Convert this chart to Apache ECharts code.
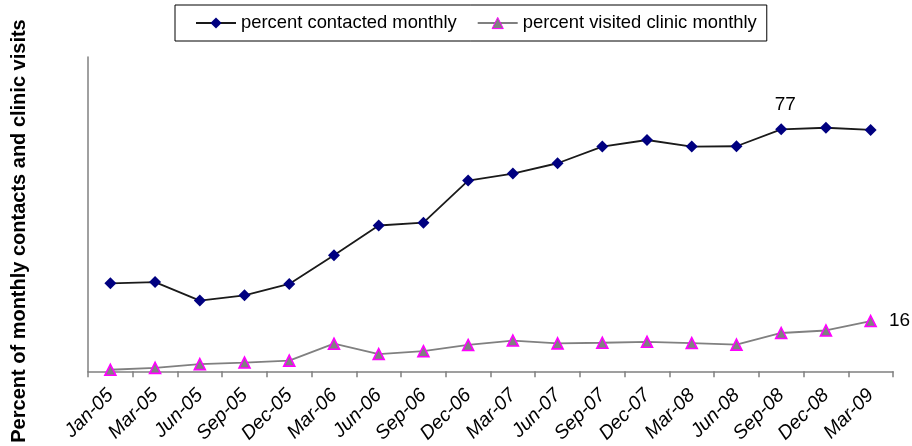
<!DOCTYPE html>
<html>
<head>
<meta charset="utf-8">
<script src="https://cdn.jsdelivr.net/npm/echarts@6/dist/echarts.min.js"></script>
<style>
html,body{margin:0;padding:0;background:#fff;}
#chart{width:912px;height:446px;}
</style>
</head>
<body>
<div id="chart"></div>
<script>
const categories = ['Jan-05','Mar-05','Jun-05','Sep-05','Dec-05','Mar-06','Jun-06','Sep-06','Dec-06','Mar-07','Jun-07','Sep-07','Dec-07','Mar-08','Jun-08','Sep-08','Dec-08','Mar-09'];
const contacted = [28, 28.4, 22.5, 24.2, 27.8, 36.9, 46.4, 47.3, 60.7, 62.9, 66.2, 71.5, 73.6, 71.5, 71.6, 77, 77.5, 76.8];
const visited = [0.5, 1.1, 2.3, 2.8, 3.4, 8.8, 5.5, 6.4, 8.4, 9.8, 8.9, 9.1, 9.4, 9.0, 8.5, 12.2, 13.0, 16];
const contactedLabelIndex = 15;
const visitedLabelIndex = 17;
const yAxisTitle = 'Percent of monthly contacts and clinic visits';
const seriesNames = ['percent contacted monthly', 'percent visited clinic monthly'];

const FONT = "'Liberation Sans', Arial, sans-serif";
const chart = echarts.init(document.getElementById('chart'), null, {renderer: 'canvas'});

chart.setOption({
  animation: false,
  backgroundColor: '#ffffff',
  textStyle: {fontFamily: FONT},
  legend: {
    left: 175, top: 5,
    padding: [9, 10, 9, 20],
    borderColor: '#000', borderWidth: 1,
    itemWidth: 40, itemHeight: 14, itemGap: 20,
    textStyle: {fontSize: 18.4, color: '#000', fontFamily: FONT},
    data: [
      {name: seriesNames[0]},
      {name: seriesNames[1], itemStyle: {color: '#808080', borderColor: '#ff00ff', borderWidth: 1}}
    ]
  },
  grid: {left: 88, right: 19, top: 57, bottom: 74},
  graphic: [{
    type: 'text', x: 19, y: 231, rotation: Math.PI / 2,
    style: {text: yAxisTitle, font: "bold 20px " + FONT, fill: '#000', textAlign: 'center', textVerticalAlign: 'middle'}
  }],
  xAxis: {
    type: 'category', data: categories, boundaryGap: true,
    axisLine: {lineStyle: {color: '#808080', width: 1.5}},
    axisTick: {show: true, length: 6, lineStyle: {color: '#808080', width: 1.5}},
    axisLabel: {interval: 0, rotate: 45, margin: 21, fontSize: 19.5, fontStyle: 'italic', color: '#000', fontFamily: FONT},
    splitLine: {show: false}
  },
  yAxis: {
    type: 'value', min: 0, max: 100,
    axisLine: {show: true, lineStyle: {color: '#808080', width: 1.5}},
    axisTick: {show: false}, axisLabel: {show: false}, splitLine: {show: false}
  },
  series: [{
    name: seriesNames[0], type: 'line',
    data: contacted.map((v, i) => i === contactedLabelIndex ? {value: v, label: {show: true}} : v),
    symbol: 'diamond', symbolSize: 12,
    lineStyle: {color: '#1a1a1a', width: 1.8},
    itemStyle: {color: '#000080'},
    label: {show: false, position: 'top', distance: 9, offset: [4, 0], fontSize: 19, color: '#000', fontFamily: FONT},
    z: 3
  }, {
    name: seriesNames[1], type: 'line',
    data: visited.map((v, i) => i === visitedLabelIndex ? {value: v, label: {show: true}} : v),
    symbol: 'triangle', symbolSize: 11,
    lineStyle: {color: '#808080', width: 1.8},
    itemStyle: {color: '#808080', borderColor: '#ff00ff', borderWidth: 1.6},
    label: {show: false, position: 'right', distance: 12, fontSize: 19, color: '#000', fontFamily: FONT},
    z: 2
  }]
});
</script>
</body>
</html>
